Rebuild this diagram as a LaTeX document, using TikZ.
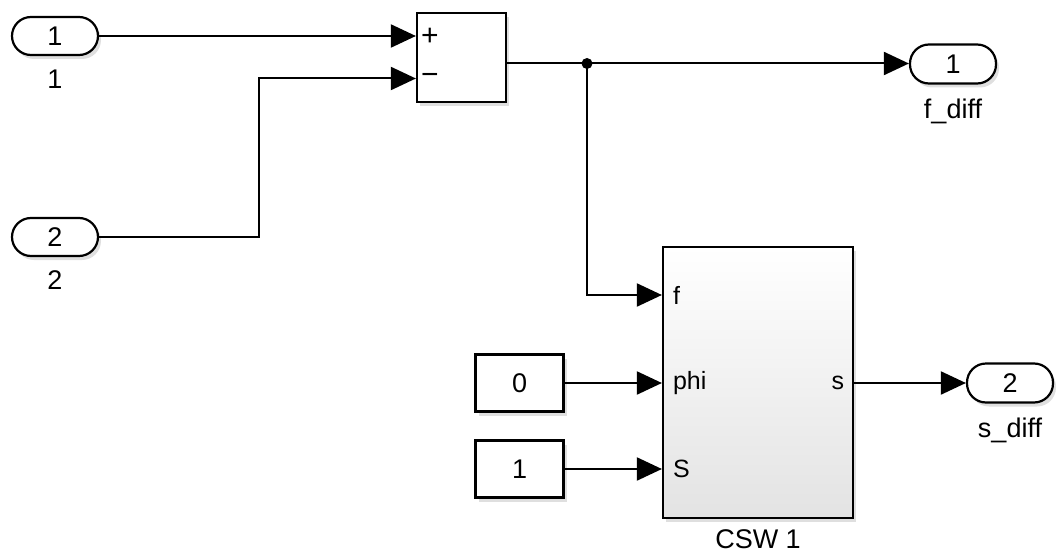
\documentclass[tikz,border=0pt]{standalone}
\usepackage{fontspec}
\setmainfont{Liberation Sans}
\usepackage{tikz}
\usetikzlibrary{arrows.meta,positioning,calc,shadows}

\begin{document}
\begin{tikzpicture}[x=1pt, y=-1pt, line width=2pt]
    \tikzset{
        blk/.style={draw, fill=white, rectangle, line width=2.2pt, font=\fontsize{27}{30}\selectfont,
            drop shadow={shadow xshift=3pt, shadow yshift=-4pt, opacity=0.25}},
        inport/.style={blk, rounded corners=19pt, minimum width=86pt, minimum height=38pt},
        outport/.style={blk, rounded corners=19pt, minimum width=86pt, minimum height=39pt},
        constblock/.style={blk, minimum width=88pt, minimum height=57pt},
        sumblock/.style={blk, minimum width=89pt, minimum height=89pt},
        subsys/.style={blk, top color=white, bottom color=gray!22, minimum width=190pt, minimum height=271pt},
        lbl/.style={font=\fontsize{27}{30}\selectfont, inner sep=0pt},
        portlbl/.style={font=\fontsize{25}{28}\selectfont, inner sep=0pt},
        signlbl/.style={font=\fontsize{30}{34}\selectfont, inner sep=0pt},
        line/.style={draw, -{Triangle[length=25pt, width=23pt]}}
    }
    \useasboundingbox (0,0) rectangle (1059,559);

    \node [inport] (in1) at (55,36) {1};
    \node [lbl, below=13pt of in1] (in1lbl) {1};
    \node [inport] (in2) at (55,237) {2};
    \node [lbl, below=13pt of in2] (in2lbl) {2};

    \node [sumblock] (sum) at (461.5,57.5) {};
    \node [signlbl, anchor=west] at (420,37) {+};
    \node [signlbl, anchor=west] at (420,79) {−};

    \node [outport] (out1) at (953,64) {1};
    \node [lbl, below=13pt of out1] (out1lbl) {f\_diff};

    \node [subsys] (csw) at (758,382.5) {};
    \node [lbl, below=10pt of csw] (cswlbl) {CSW 1};
    \node [portlbl, anchor=west] (pf) at (672,295) {f};
    \node [portlbl, anchor=west] (pphi) at (672,383) {phi};
    \node [portlbl, anchor=west] (pS) at (672,469) {S};
    \node [portlbl, anchor=east] (ps) at (845,383) {s};

    \node [constblock] (c0) at (519.5,383) {0};
    \node [constblock] (c1) at (519.5,469) {1};

    \node [outport] (out2) at (1010,383) {2};
    \node [lbl, below=13pt of out2] (out2lbl) {s\_diff};

    % port positions
    \coordinate (plus) at (sum.west |- in1.east);
    \coordinate (minus) at ($(sum.west)+(0,21)$);
    \coordinate (sumout) at ($(sum.east)+(0,6)$);
    \coordinate (jn) at (587,0 |- sumout);

    \path [line] (in1.east) -- (plus);
    \path [line] (in2.east) -- ++(160,0) |- (minus);
    \draw (sumout) -- (jn);
    \path [line] (jn) -- (out1.west |- jn);
    \path [line] (jn) |- (csw.west |- pf);
    \fill (jn) circle (5.5pt);
    \path [line] (c0.east) -- (csw.west |- c0.east);
    \path [line] (c1.east) -- (csw.west |- c1.east);
    \path [line] (csw.east |- ps) -- (out2.west);
\end{tikzpicture}
\end{document}
